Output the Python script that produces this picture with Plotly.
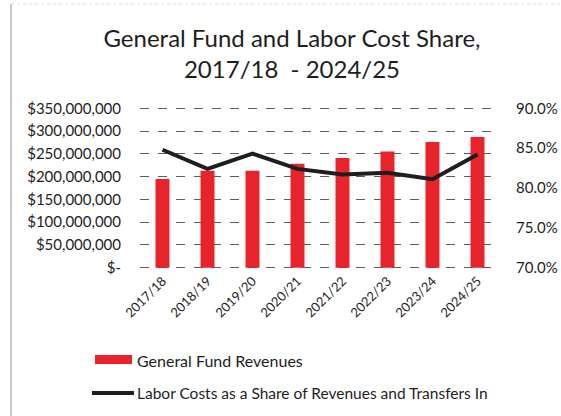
import plotly.graph_objects as go

# Fiscal years and series values
years = ["2017/18", "2018/19", "2019/20", "2020/21", "2021/22", "2022/23", "2023/24", "2024/25"]
revenues = [195_000_000, 213_000_000, 213_000_000, 228_000_000, 241_000_000, 255_000_000, 276_000_000, 287_000_000]
labor_share = [0.848, 0.824, 0.843, 0.824, 0.817, 0.819, 0.811, 0.842]

left_ticks = [0, 50_000_000, 100_000_000, 150_000_000, 200_000_000, 250_000_000, 300_000_000, 350_000_000]
left_labels = ["$-", "$50,000,000", "$100,000,000", "$150,000,000", "$200,000,000",
               "$250,000,000", "$300,000,000", "$350,000,000"]
right_ticks = [0.70, 0.75, 0.80, 0.85, 0.90]

bar_name = "General Fund Revenues"
line_name = "Labor Costs as a Share of Revenues and Transfers In"

RED = "#e8232b"
INK = "#1e1e1e"
FONT = "Lato, 'Open Sans', sans-serif"

fig = go.Figure()
fig.add_trace(go.Bar(x=years, y=revenues, name=bar_name, marker_color=RED,
                     marker_line_width=0, yaxis="y"))
fig.add_trace(go.Scatter(x=years, y=labor_share, name=line_name, mode="lines",
                         line=dict(color=INK, width=4), yaxis="y2"))

W, H = 561, 416
L, R, T, B = 140, 61, 106, 146
pw, ph = W - L - R, H - T - B

def px(x):
    return (x - L) / pw

def py(y):
    return (H - B - y) / ph

# padding so the gridlines at $- and $350,000,000 are drawn inside the plot area
pad = 5_000_000
y_lo, y_hi = -pad, 350_000_000 + pad
r_lo = 0.70 - 0.20 * pad / 350_000_000
r_hi = 0.90 + 0.20 * pad / 350_000_000

shapes = [
    # legend swatches
    dict(type="rect", xref="paper", yref="paper", x0=px(95), x1=px(132), y0=py(364), y1=py(355),
         fillcolor=RED, line_width=0),
    dict(type="line", xref="paper", yref="paper", x0=px(92), x1=px(134), y0=py(393), y1=py(393),
         line=dict(color=INK, width=4)),
    # faint page frame
    dict(type="line", xref="paper", yref="paper", x0=px(11), x1=px(11), y0=py(4), y1=py(416),
         line=dict(color="#c8c8c8", width=2)),
    dict(type="line", xref="paper", yref="paper", x0=px(11), x1=px(561), y0=py(4), y1=py(4),
         line=dict(color="#dcdcdc", width=1, dash="dot")),
]

annotations = [
    dict(xref="paper", yref="paper", x=px(135), y=py(360), text=bar_name, showarrow=False,
         xanchor="left", yanchor="middle", font=dict(size=16, color=INK, family=FONT)),
    dict(xref="paper", yref="paper", x=px(135), y=py(393), text=line_name, showarrow=False,
         xanchor="left", yanchor="middle", font=dict(size=15.5, color=INK, family=FONT)),
]

fig.update_layout(
    width=W, height=H,
    margin=dict(l=L, r=R, t=T, b=B, autoexpand=False),
    paper_bgcolor="white", plot_bgcolor="white",
    font=dict(family=FONT, color=INK, size=15),
    title=dict(text="General Fund and Labor Cost Share,<br>2017/18  - 2024/25",
               x=292 / W, xanchor="center", y=1 - 47 / H, yanchor="middle",
               font=dict(size=24, color=INK, family=FONT)),
    showlegend=False,
    bargap=0.69,
    xaxis=dict(type="category", tickangle=-45, tickfont=dict(size=13), automargin=False,
               showgrid=False, showline=False, ticks="", zeroline=False),
    yaxis=dict(range=[y_lo, y_hi], tickvals=left_ticks, ticktext=left_labels, automargin=False,
               showgrid=True, gridcolor="#5e5e5e", griddash="dash", gridwidth=1,
               zeroline=False, showline=False,
               ticks="outside", ticklen=15, tickcolor="rgba(0,0,0,0)"),
    yaxis2=dict(range=[r_lo, r_hi], overlaying="y", side="right", tickvals=right_ticks,
                tickformat=".1%", showgrid=False, zeroline=False, showline=False, automargin=False,
                ticks="outside", ticklen=12, tickcolor="rgba(0,0,0,0)"),
    shapes=shapes,
    annotations=annotations,
)

fig.write_html("out.html")
